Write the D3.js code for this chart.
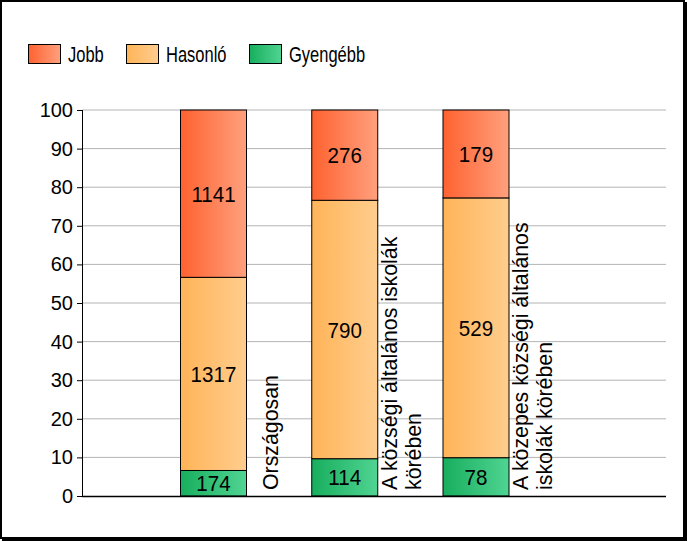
<!DOCTYPE html>
<html><head><meta charset="utf-8">
<script src="https://cdn.jsdelivr.net/npm/d3@7"></script>
<style>html,body{margin:0;padding:0;background:#fff;}svg{display:block;font-family:"Liberation Sans",Arial,sans-serif;}</style>
</head><body>
<svg id="c" width="687" height="541"></svg>
<script>
const categories = [["Országosan"], ["A községi általános iskolák", "körében"], ["A közepes községi általános", "iskolák körében"]];
const seriesNames = ["Gyengébb", "Hasonló", "Jobb"];
const gyengebb = [174, 114, 78];
const hasonlo = [1317, 790, 529];
const jobb = [1141, 276, 179];
const yTicks = [0, 10, 20, 30, 40, 50, 60, 70, 80, 90, 100];
const legendOrder = ["Jobb", "Hasonló", "Gyengébb"];

const colors = {
  "Jobb": ["#FF6230", "#FFA07E"],
  "Hasonló": ["#FFB458", "#FFCD8E"],
  "Gyengébb": ["#18AE5E", "#50D492"]
};

const svg = d3.select("#c");
const defs = svg.append("defs");
Object.entries(colors).forEach(([k, c], i) => {
  const g = defs.append("linearGradient").attr("id", "g" + i).attr("x1", "0").attr("x2", "1").attr("y1", "0").attr("y2", "0");
  g.append("stop").attr("offset", "0").attr("stop-color", c[0]);
  g.append("stop").attr("offset", "1").attr("stop-color", c[1]);
  colors[k].id = "url(#g" + i + ")";
});

const rows = categories.map((c, i) => ({ key: i, "Gyengébb": gyengebb[i], "Hasonló": hasonlo[i], "Jobb": jobb[i] }));
const stacked = d3.stack().keys(seriesNames).offset(d3.stackOffsetExpand)(rows);

const plotL = 82, plotR = 666, plotT = 110, plotB = 496;
const y = d3.scaleLinear().domain([0, 100]).range([plotB, plotT]);
const x = d3.scalePoint().domain(d3.range(categories.length)).range([213, 475.5]);
const barW = 66;

// gridlines
svg.append("g").selectAll("line").data(yTicks.filter(t => t > 0)).join("line")
  .attr("x1", plotL).attr("x2", plotR).attr("y1", d => y(d)).attr("y2", d => y(d))
  .attr("stroke", "#b4b4b4").attr("stroke-width", 1);

// y axis
const yAxis = d3.axisLeft(y).tickValues(yTicks).tickSize(5).tickPadding(4);
const ya = svg.append("g").attr("transform", `translate(${plotL},0)`).call(yAxis);
ya.select(".domain").remove();
ya.selectAll(".tick line").attr("stroke", "#000");
ya.selectAll(".tick text").attr("font-size", 20).attr("fill", "#000").attr("font-family", "Liberation Sans, Arial, sans-serif");
svg.append("line").attr("x1", plotL + 0.5).attr("x2", plotL + 0.5).attr("y1", plotT).attr("y2", plotB).attr("stroke", "#000");

// bars
stacked.forEach(s => {
  const g = svg.append("g");
  g.selectAll("rect").data(s).join("rect")
    .attr("x", (d, i) => x(i) - barW / 2 + 0.5)
    .attr("width", barW)
    .attr("y", d => y(d[1] * 100))
    .attr("height", d => y(d[0] * 100) - y(d[1] * 100))
    .attr("fill", colors[s.key].id)
    .attr("stroke", "#000").attr("stroke-width", 1);
  g.selectAll("text").data(s).join("text")
    .attr("transform", (d, i) => `translate(${x(i) + 0.5},${(y(d[0] * 100) + y(d[1] * 100)) / 2}) scale(0.98,1.06)`)
    .attr("dy", "0.36em")
    .attr("text-anchor", "middle").attr("font-size", 21).attr("fill", "#000")
    .text(d => d.data[s.key]);
});

// x axis baseline
svg.append("line").attr("x1", plotL).attr("x2", plotR).attr("y1", plotB + 0.5).attr("y2", plotB + 0.5).attr("stroke", "#000").attr("stroke-width", 1.5);

// category labels (rotated)
const lineGap = 24;
categories.forEach((lines, i) => {
  const n = lines.length;
  const t = svg.append("text")
    .attr("transform", `translate(${x(i) + 57.5},${plotB - 6}) rotate(-90)`)
    .attr("font-size", 21.3).attr("fill", "#000");
  lines.forEach((l, j) => t.append("tspan").attr("x", 0).attr("y", 7 + (j - (n - 1) / 2) * lineGap).text(l));
});

// legend
const legX = [28, 126, 249];
legendOrder.forEach((k, i) => {
  svg.append("rect").attr("x", legX[i] + 0.5).attr("y", 44.5).attr("width", 32).attr("height", 19)
    .attr("fill", colors[k].id).attr("stroke", "#000");
  svg.append("text").attr("transform", `translate(${legX[i] + 40},54) scale(0.74,1)`).attr("dy", "0.36em")
    .attr("font-size", 22.3).attr("fill", "#000").text(k);
});

// border
svg.append("rect").attr("x", 1).attr("y", 1).attr("width", 683).attr("height", 537)
  .attr("fill", "none").attr("stroke", "#000").attr("stroke-width", 2);
svg.append("line").attr("x1", 686).attr("x2", 686).attr("y1", 2).attr("y2", 541).attr("stroke", "#000").attr("stroke-width", 2);
svg.append("line").attr("x1", 2).attr("x2", 687).attr("y1", 540).attr("y2", 540).attr("stroke", "#000").attr("stroke-width", 2);
</script>
</body></html>
